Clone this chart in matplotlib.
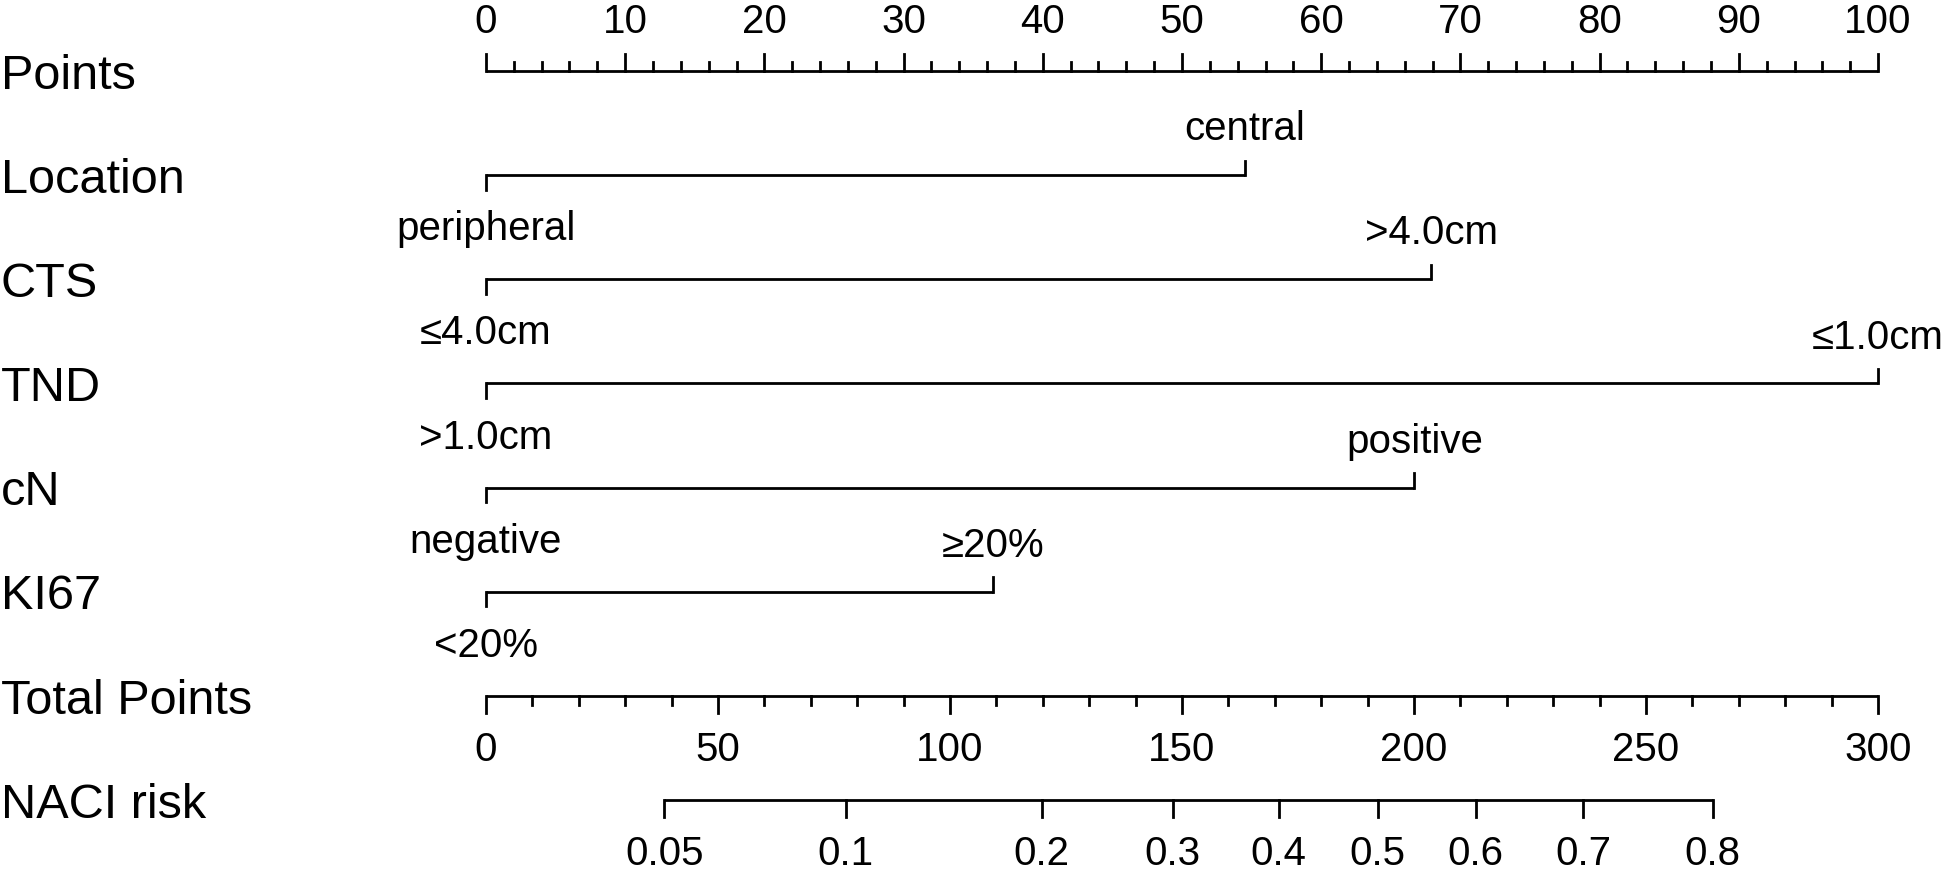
import matplotlib
matplotlib.use("Agg")
import matplotlib.pyplot as plt

# row labels, top to bottom
rows = ['Points', 'Location', 'CTS', 'TND', 'cN', 'KI67', 'Total Points', 'NACI risk']

# categorical predictors: (lower level, upper level) and their points
location_levels = ['peripheral', 'central']
location_points = [0, 54.5]
cts_levels = ['≤4.0cm', '>4.0cm']
cts_points = [0, 67.9]
tnd_levels = ['>1.0cm', '≤1.0cm']
tnd_points = [0, 100]
cn_levels = ['negative', 'positive']
cn_points = [0, 66.7]
ki67_levels = ['<20%', '≥20%']
ki67_points = [0, 36.4]

# total points axis
total_max = 300
# NACI risk axis: probabilities and the total points where they sit
naci_risk = ['0.05', '0.1', '0.2', '0.3', '0.4', '0.5', '0.6', '0.7', '0.8']
naci_total = [38.4, 77.5, 119.8, 148.0, 170.8, 192.2, 213.3, 236.4, 264.4]

plt.rcParams['font.family'] = ['Liberation Sans', 'DejaVu Sans']
LW = 2.0
ROW_FS = 35
TICK_FS = 29
K = 'black'

fig = plt.figure(figsize=(19.45, 8.75), dpi=100)
ax = fig.add_axes([0, 0, 1, 1])
ax.set_xlim(-34.91, 104.81)
ax.set_ylim(7.72, -0.682)
ax.axis('off')

# row labels
for i, name in enumerate(rows):
    ax.text(-34.85, i + 0.05, name, fontsize=ROW_FS, ha='left', va='center', color=K)

# Points scale (0-100), ticks upward, labels above
y = 0
ax.plot([0, 100], [y, y], color=K, lw=LW, solid_capstyle='butt')
for v in range(0, 101, 2):
    h = 0.16 if v % 10 == 0 else 0.09
    ax.plot([v, v], [y, y - h], color=K, lw=LW)
for v in range(0, 101, 10):
    ax.text(v, y - 0.47, str(v), fontsize=TICK_FS, ha='center', va='center', color=K)

# categorical predictors
cats = [(location_levels, location_points),
        (cts_levels, cts_points),
        (tnd_levels, tnd_points),
        (cn_levels, cn_points),
        (ki67_levels, ki67_points)]
for i, (levels, pts) in enumerate(cats, start=1):
    ax.plot([pts[0], pts[1]], [i, i], color=K, lw=LW, solid_capstyle='butt')
    # lower level: tick and label below
    ax.plot([pts[0], pts[0]], [i, i + 0.14], color=K, lw=LW)
    ax.text(pts[0], i + 0.52, levels[0], fontsize=TICK_FS, ha='center', va='center', color=K)
    # upper level: tick and label above
    ax.plot([pts[1], pts[1]], [i, i - 0.14], color=K, lw=LW)
    ax.text(pts[1], i - 0.44, levels[1], fontsize=TICK_FS, ha='center', va='center', color=K)

# Total Points scale (0-300) on the same width, ticks downward
y = 6
scale = 100.0 / total_max
ax.plot([0, 100], [y, y], color=K, lw=LW, solid_capstyle='butt')
for v in range(0, total_max + 1, 10):
    h = 0.16 if v % 50 == 0 else 0.09
    ax.plot([v * scale, v * scale], [y, y + h], color=K, lw=LW)
for v in range(0, total_max + 1, 50):
    ax.text(v * scale, y + 0.52, str(v), fontsize=TICK_FS, ha='center', va='center', color=K)

# NACI risk scale
y = 7
xs = [t * scale for t in naci_total]
ax.plot([xs[0], xs[-1]], [y, y], color=K, lw=LW, solid_capstyle='butt')
for x, lab in zip(xs, naci_risk):
    ax.plot([x, x], [y, y + 0.16], color=K, lw=LW)
    ax.text(x, y + 0.52, lab, fontsize=TICK_FS, ha='center', va='center', color=K)

fig.savefig('out.png', dpi=100)
